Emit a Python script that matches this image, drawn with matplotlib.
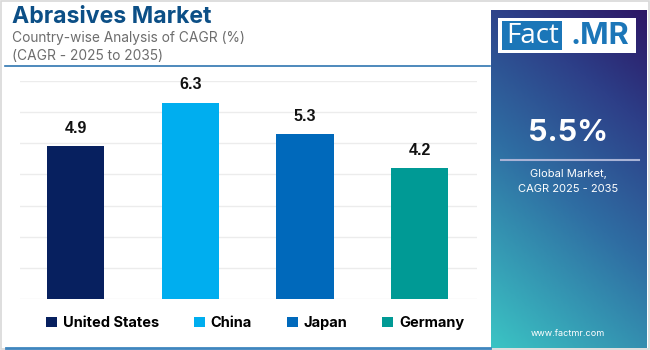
import matplotlib
matplotlib.use("Agg")
import matplotlib.pyplot as plt
import numpy as np
from matplotlib.patches import Rectangle, Patch
from matplotlib.colors import LinearSegmentedColormap

countries = ["United States", "China", "Japan", "Germany"]
cagr = [4.9, 6.3, 5.3, 4.2]
colors = ["#07205f", "#00aeef", "#0069bb", "#009a95"]
title = "Abrasives Market"
subtitle1 = "Country-wise Analysis of CAGR (%)"
subtitle2 = "(CAGR - 2025 to 2035)"
global_cagr = "5.5%"
panel_text1 = "Global Market,"
panel_text2 = "CAGR 2025 - 2035"

W, H = 650, 350
fig = plt.figure(figsize=(6.5, 3.5), dpi=100)
fig.patch.set_facecolor("white")

def fx(px):
    return px / W

def fy(py):
    return 1 - py / H

# border
fig.add_artist(Rectangle((0.001, 0.002), 0.997, 0.995, transform=fig.transFigure,
                         fill=False, edgecolor="#d8d8d8", lw=1.2))

# Title texts
fig.text(fx(12), fy(17), title, fontsize=16.6, fontweight="bold", color="#0c4f86",
         family="Inter", va="center", ha="left")
fig.text(fx(12), fy(38), subtitle1, fontsize=9.9, color="#6d6d6d",
         family="Inter", va="center", ha="left")
fig.text(fx(12), fy(56), subtitle2, fontsize=9.9, color="#6d6d6d",
         family="Inter", va="center", ha="left")
# header line
fig.add_artist(plt.Line2D([fx(5), fx(490)], [fy(66), fy(66)], transform=fig.transFigure,
                          color="#2f76b0", lw=1.2))
# bottom line
fig.add_artist(plt.Line2D([fx(6), fx(490)], [fy(348), fy(348)], transform=fig.transFigure,
                          color="#3f86bf", lw=2))

# Bar axes
ax = fig.add_axes([fx(20), fy(299), fx(477) - fx(20), fy(81) - fy(299)])
x = np.arange(len(countries))
ax.bar(x, cagr, width=0.5, color=colors, zorder=3)
ax.set_ylim(0, 7)
ax.set_xlim(-0.484, 3.501)
ax.set_yticks(np.arange(0, 8, 1))
ax.yaxis.grid(True, color="#ececec", lw=1, zorder=0)
ax.set_axisbelow(True)
ax.tick_params(left=False, bottom=False, labelleft=False, labelbottom=False)
for s in ax.spines.values():
    s.set_visible(False)
for xi, v in zip(x, cagr):
    ax.annotate(f"{v}", (xi, v), xytext=(0, 7.5), textcoords="offset points",
                ha="center", va="bottom", fontsize=11.5, fontweight="bold",
                family="Liberation Sans", color="#111111", clip_on=False)

# Legend
handles = [Patch(facecolor=c, edgecolor="none") for c in colors]
leg = fig.legend(handles, countries, loc="center", bbox_to_anchor=(fx(255), fy(323)),
                 ncol=4, frameon=False, handlelength=0.75, handleheight=0.75,
                 handletextpad=0.4, columnspacing=2.4,
                 prop={"family": "Inter", "weight": "bold", "size": 10.5})

# Right panel gradient
pax = fig.add_axes([fx(491), fy(348), fx(647) - fx(491), fy(10) - fy(348)])
ny, nx = 200, 100
yy, xx = np.mgrid[0:1:ny * 1j, 0:1:nx * 1j]
t = 0.72 * yy + 0.28 * xx
t = t / t.max()
cmap = LinearSegmentedColormap.from_list("g", [(0, "#3bc4c4"), (0.45, "#2f6ea3"), (0.75, "#2d3f88"), (1, "#2c1765")])
pax.imshow(t, cmap=cmap, origin="lower", aspect="auto", extent=(0, 1, 0, 1))
pax.set_xlim(0, 1)
pax.set_ylim(0, 1)
pax.axis("off")

# Logo
fig.add_artist(Rectangle((fx(498), fy(53)), fx(636) - fx(498), fy(18) - fy(53),
                         transform=fig.transFigure, facecolor="white", edgecolor="none"))
fig.add_artist(Rectangle((fx(502), fy(50)), fx(562) - fx(502), fy(21) - fy(50),
                         transform=fig.transFigure, facecolor="#1b76b8", edgecolor="none"))
fig.text(fx(533), fy(36), "Fact", fontsize=20, color="white", family="Open Sans",
         ha="center", va="center")
fig.text(fx(600), fy(36), ".MR", fontsize=22, color="#1b76b8", family="Inter",
         fontweight="bold", ha="center", va="center")

# Panel texts
fig.text(fx(568), fy(133), global_cagr, fontsize=22, fontweight="bold", color="white",
         family="Inter", ha="center", va="center")
fig.add_artist(plt.Line2D([fx(501), fx(639)], [fy(160), fy(160)], transform=fig.transFigure,
                          color="#a9b3d6", lw=1.5))
fig.text(fx(568), fy(174), panel_text1, fontsize=8, color="white", family="Inter",
         ha="center", va="center")
fig.text(fx(568), fy(189), panel_text2, fontsize=8, color="white", family="Inter",
         ha="center", va="center")
fig.text(fx(568), fy(334), "www.factmr.com", fontsize=6.5, color="white", family="Inter",
         ha="center", va="center")

fig.savefig("out.png", dpi=100, facecolor="white")
